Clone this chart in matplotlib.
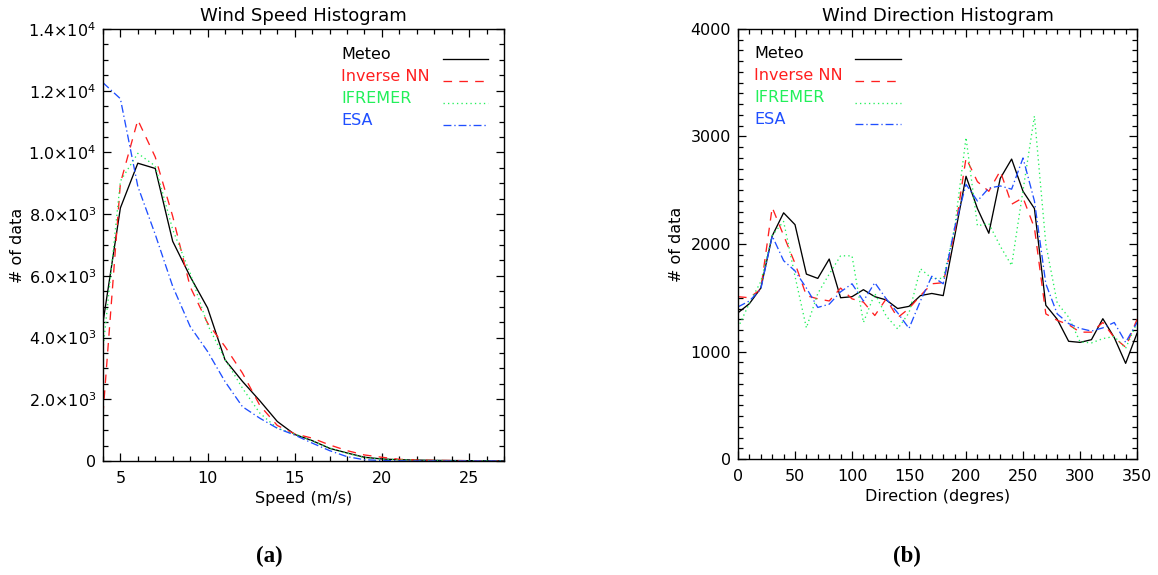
import matplotlib.pyplot as plt
import numpy as np
from matplotlib.ticker import MultipleLocator, FuncFormatter

# Wind speed histogram (bins every 1 m/s)
speed = np.arange(4, 28)
speed_meteo = [4480, 8200, 9650, 9480, 7120, 5980, 4960, 3280, 2580, 1950, 1280, 860,
               660, 410, 260, 120, 65, 40, 30, 20, 15, 10, 5, 0]
speed_nn = [1500, 9000, 11050, 9850, 7930, 5650, 4470, 3710, 2850, 1800, 1150, 880,
            740, 520, 335, 195, 120, 55, 30, 20, 15, 10, 5, 0]
speed_ifremer = [3600, 9070, 9970, 9560, 7500, 6090, 4415, 3300, 2360, 1550, 1060, 877,
                 650, 420, 250, 110, 60, 40, 25, 15, 10, 5, 3, 0]
speed_esa = [12260, 11740, 8900, 7340, 5660, 4360, 3550, 2575, 1760, 1385, 1060, 840,
             580, 335, 140, 40, 15, 5, 0, 0, 0, 0, 0, 0]

# Wind direction histogram (bins every 10 degrees)
direction = np.arange(0, 360, 10)
dir_meteo = [1360, 1445, 1590, 2075, 2290, 2180, 1720, 1680, 1860, 1500, 1510, 1575,
             1510, 1480, 1400, 1420, 1520, 1540, 1520, 2070, 2630, 2330, 2100, 2610,
             2790, 2490, 2330, 1430, 1300, 1095, 1085, 1110, 1305, 1130, 890, 1170]
dir_nn = [1510, 1500, 1580, 2340, 2080, 1820, 1520, 1490, 1470, 1590, 1490, 1460,
          1335, 1490, 1315, 1400, 1520, 1630, 1640, 2100, 2800, 2580, 2490, 2680,
          2370, 2430, 2150, 1350, 1290, 1250, 1180, 1180, 1270, 1130, 1040, 1300]
dir_ifremer = [1220, 1450, 1650, 2080, 2210, 1700, 1220, 1540, 1720, 1890, 1890, 1270,
               1540, 1330, 1210, 1360, 1770, 1680, 1680, 2150, 2990, 2170, 2190, 1980,
               1800, 2500, 3190, 2000, 1450, 1320, 1090, 1080, 1120, 1140, 1030, 1270]
dir_esa = [1415, 1470, 1580, 2075, 1845, 1750, 1590, 1410, 1440, 1555, 1630, 1470,
           1640, 1490, 1360, 1215, 1470, 1700, 1630, 2150, 2555, 2400, 2520, 2540,
           2510, 2800, 2400, 1630, 1350, 1260, 1215, 1190, 1220, 1270, 1085, 1270]

names = ['Meteo', 'Inverse NN', 'IFREMER', 'ESA']
colors = ['black', '#ff1f1f', '#22f05a', '#1f4fff']
dashes = [None, (6.5, 5.5), (1.0, 2.4), (6, 2.2, 1.0, 2.2)]

plt.rcParams['font.family'] = 'DejaVu Sans'
plt.rcParams['mathtext.fontset'] = 'dejavusans'

fig = plt.figure(figsize=(11.58, 5.75), dpi=100)
ax0 = fig.add_axes([0.0889, 0.1983, 0.3463, 0.7513])
ax1 = fig.add_axes([0.6373, 0.2017, 0.3446, 0.7479])


def draw(ax, x, series, legend_x, line_x):
    for i, (y, c, d) in enumerate(zip(series, colors, dashes)):
        ln, = ax.plot(x, y, color=c, lw=0.95, clip_on=True)
        if d is not None:
            ln.set_dashes(d)
        # hand-made legend: text on the left, line sample on the right
        ty = 0.942 - i * 0.051
        ax.text(legend_x, ty, names[i], color=c, fontsize=11.5, va='center',
                ha='left', transform=ax.transAxes)
        lg, = ax.plot(line_x, [ty - 0.011] * 2, color=c, lw=0.95, transform=ax.transAxes)
        if d is not None:
            lg.set_dashes(d)
    ax.tick_params(which='both', direction='in', top=True, right=True,
                   labelsize=11.5, width=0.9)
    ax.tick_params(axis='x', pad=7)
    ax.tick_params(axis='y', pad=5)
    ax.tick_params(which='major', length=6)
    ax.tick_params(which='minor', length=3.5)
    for s in ax.spines.values():
        s.set_linewidth(1.0)
    ax.set_ylabel('# of data', fontsize=11.5)


draw(ax0, speed, [speed_meteo, speed_nn, speed_ifremer, speed_esa], 0.594, [0.848, 0.96])
ax0.set_xlim(4, 27)
ax0.set_ylim(0, 14000)
ax0.xaxis.set_major_locator(MultipleLocator(5))
ax0.xaxis.set_minor_locator(MultipleLocator(1))
ax0.yaxis.set_major_locator(MultipleLocator(2000))
ax0.yaxis.set_minor_locator(MultipleLocator(500))


def sci(v, pos):
    if v <= 0:
        return '0'
    e = int(np.floor(np.log10(v)))
    return r'$%.1f{\times}10^{%d}$' % (v / 10 ** e, e)


ax0.yaxis.set_major_formatter(FuncFormatter(sci))
ax0.set_xlabel('Speed (m/s)', fontsize=11.5, labelpad=4)
ax0.set_title('Wind Speed Histogram', fontsize=13, pad=6)
ax0.yaxis.set_label_coords(-0.195, 0.5)

draw(ax1, direction, [dir_meteo, dir_nn, dir_ifremer, dir_esa], 0.041, [0.293, 0.408])
ax1.set_xlim(0, 350)
ax1.set_ylim(0, 4000)
ax1.xaxis.set_major_locator(MultipleLocator(50))
ax1.xaxis.set_minor_locator(MultipleLocator(10))
ax1.yaxis.set_major_locator(MultipleLocator(1000))
ax1.yaxis.set_minor_locator(MultipleLocator(100))
ax1.set_xlabel('Direction (degres)', fontsize=11.5, labelpad=4)
ax1.set_title('Wind Direction Histogram', fontsize=13, pad=6)
ax1.yaxis.set_label_coords(-0.135, 0.5)

fig.text(0.2323, 0.014, '(a)', ha='center', va='bottom', fontsize=16.5,
         fontweight='bold', family='Liberation Serif')
fig.text(0.7832, 0.014, '(b)', ha='center', va='bottom', fontsize=16.5,
         fontweight='bold', family='Liberation Serif')

fig.savefig('out.png', dpi=100)
